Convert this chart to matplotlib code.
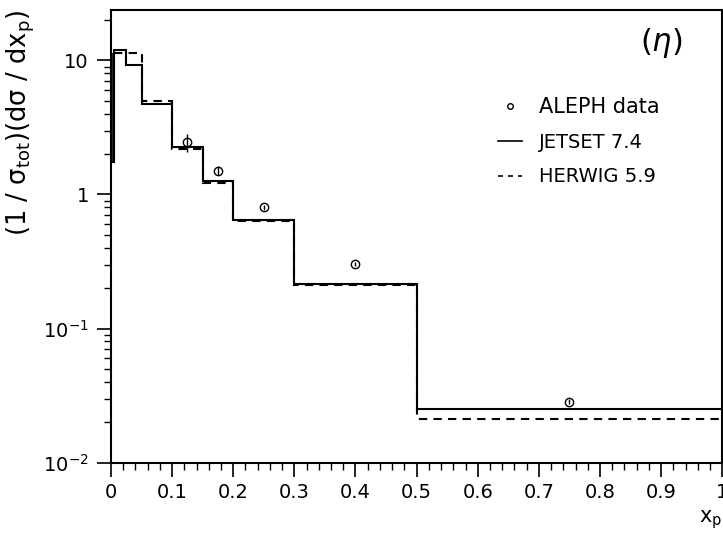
import matplotlib
matplotlib.use("Agg")
import matplotlib.pyplot as plt
from matplotlib.lines import Line2D
from matplotlib.ticker import MultipleLocator, LogLocator, NullFormatter

plt.rcParams['font.family'] = ['DejaVu Sans']
plt.rcParams['mathtext.default'] = 'regular'

# JETSET 7.4 histogram (solid)
jetset_edges = [0.002, 0.005, 0.025, 0.05, 0.1, 0.15, 0.2, 0.3, 0.5, 1.0]
jetset_vals = [1.74, 12.0, 9.3, 4.7, 2.28, 1.27, 0.64, 0.213, 0.0249]

# HERWIG 5.9 histogram (dashed)
herwig_edges = [0.005, 0.05, 0.1, 0.15, 0.2, 0.3, 0.5, 1.0]
herwig_vals = [11.3, 5.0, 2.2, 1.21, 0.63, 0.21, 0.0212]

# ALEPH data
data_x = [0.125, 0.175, 0.25, 0.4, 0.75]
data_y = [2.45, 1.51, 0.80, 0.304, 0.0285]
data_err = [0.38, 0.12, 0.04, 0.012, 0.0012]

ytick_vals = [0.01, 0.1, 1, 10]
ytick_labels = [r'$10^{-2}$', r'$10^{-1}$', '1', '10']
xtick_vals = [0, 0.1, 0.2, 0.3, 0.4, 0.5, 0.6, 0.7, 0.8, 0.9, 1.0]
xtick_labels = ['0', '0.1', '0.2', '0.3', '0.4', '0.5', '0.6', '0.7', '0.8', '0.9', '1']

fig = plt.figure(figsize=(7.23, 5.38), dpi=100)
ax = fig.add_axes([0.1535, 0.1403, 0.8455, 0.8420])

ax.stairs(jetset_vals, jetset_edges, color='black', lw=1.5, ls='-', baseline=None)
ax.vlines(jetset_edges[0], jetset_vals[0], herwig_vals[0], color='black', lw=1.2)
ax.stairs(herwig_vals, herwig_edges, color='black', lw=1.5, ls=(0, (4, 3)),
          baseline=None)
ax.errorbar(data_x, data_y, yerr=data_err, fmt='o', mfc='none', mec='black',
            ecolor='black', ms=6, mew=1.0, elinewidth=1.0, capsize=0)

ax.set_yscale('log')
ax.set_xlim(0, 1)
ax.set_ylim(0.01, 24)

ax.set_xticks(xtick_vals)
ax.set_xticklabels(xtick_labels)
ax.xaxis.set_minor_locator(MultipleLocator(0.02))
ax.set_yticks(ytick_vals)
ax.set_yticklabels(ytick_labels)
ax.yaxis.set_minor_locator(LogLocator(base=10, subs=range(2, 10)))
ax.yaxis.set_minor_formatter(NullFormatter())

ax.tick_params(which='major', direction='out', length=10, width=1.2,
               labelsize=14, pad=6, top=False, right=False)
ax.tick_params(axis='x', which='major', pad=5)
ax.tick_params(which='minor', direction='out', length=5, width=1.0,
               top=False, right=False)
for s in ax.spines.values():
    s.set_linewidth(1.5)

ax.set_ylabel(r'$(1\ /\ \sigma_{tot})(d\sigma\ /\ dx_{p})$', fontsize=18.5,
              loc='top', labelpad=4)
ax.set_xlabel(r'$x_{p}$', fontsize=15, loc='right', labelpad=4)

ax.text(0.9, 0.925, r'$(\mathit{\eta})$', transform=ax.transAxes, fontsize=22,
        ha='center', va='center')

handles = [
    Line2D([], [], marker='o', mfc='none', mec='black', ms=4, ls='none'),
    Line2D([], [], color='black', lw=1.2, ls='-'),
    Line2D([], [], color='black', lw=1.2, ls=(0, (3, 3))),
]
labels = ['ALEPH data', 'JETSET 7.4', 'HERWIG 5.9']
leg = ax.legend(handles, labels, loc='upper left', bbox_to_anchor=(0.605, 0.845),
                frameon=False, fontsize=14, handlelength=1.2, handletextpad=0.9,
                labelspacing=0.8)
leg.get_texts()[0].set_fontsize(15)

fig.savefig('out.png', dpi=100)
